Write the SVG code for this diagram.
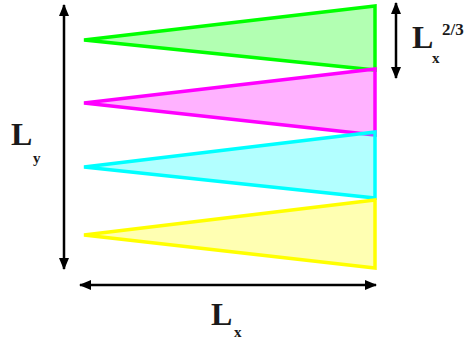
<svg xmlns="http://www.w3.org/2000/svg" width="466" height="341" viewBox="0 0 466 341">
<defs>
<style>
.tri{stroke-width:3.5;stroke-linejoin:miter;fill-opacity:0.3}
.dim{stroke:#000;stroke-width:2.5;fill:none}
.lbl{font-family:"Liberation Serif",serif;font-weight:bold;fill:#1a1a1a}
</style>
<marker id="ah" viewBox="0 0 12 10" refX="11" refY="5" markerWidth="12" markerHeight="10" markerUnits="userSpaceOnUse" orient="auto-start-reverse">
<path d="M0,0 L12,5 L0,10 Z" fill="#000"/>
</marker>
</defs>
<rect width="466" height="341" fill="#fff"/>
<g id="green"><polygon class="tri" points="84,40 375,6 375,70" fill="#00ff00" stroke="#00ff00"/></g>
<g id="magenta"><polygon class="tri" points="84,103 375,69 375,135" fill="#ff00ff" stroke="#ff00ff"/></g>
<g id="cyan"><polygon class="tri" points="84,167 375,132 375,198" fill="#00ffff" stroke="#00ffff"/></g>
<g id="yellow"><polygon class="tri" points="84,235 375,200 375,268" fill="#ffff00" stroke="#ffff00"/></g>
<g id="connectors">
<line class="dim" x1="64" y1="5" x2="64" y2="269" marker-start="url(#ah)" marker-end="url(#ah)"/>
<line class="dim" x1="80" y1="285" x2="376" y2="285" marker-start="url(#ah)" marker-end="url(#ah)"/>
<line class="dim" x1="396" y1="3" x2="396" y2="78" marker-start="url(#ah)" marker-end="url(#ah)"/>
</g>
<g id="label-ly"><text class="lbl" x="11" y="145" font-size="32">L</text><text class="lbl" x="33" y="163" font-size="15">y</text></g>
<g id="label-lx"><text class="lbl" x="211" y="325" font-size="32">L</text><text class="lbl" x="234" y="337" font-size="15">x</text></g>
<g id="label-lx23"><text class="lbl" x="412" y="48" font-size="32">L</text><text class="lbl" x="432" y="63" font-size="15">x</text><text class="lbl" x="442" y="35" font-size="17">2/3</text></g>
</svg>
